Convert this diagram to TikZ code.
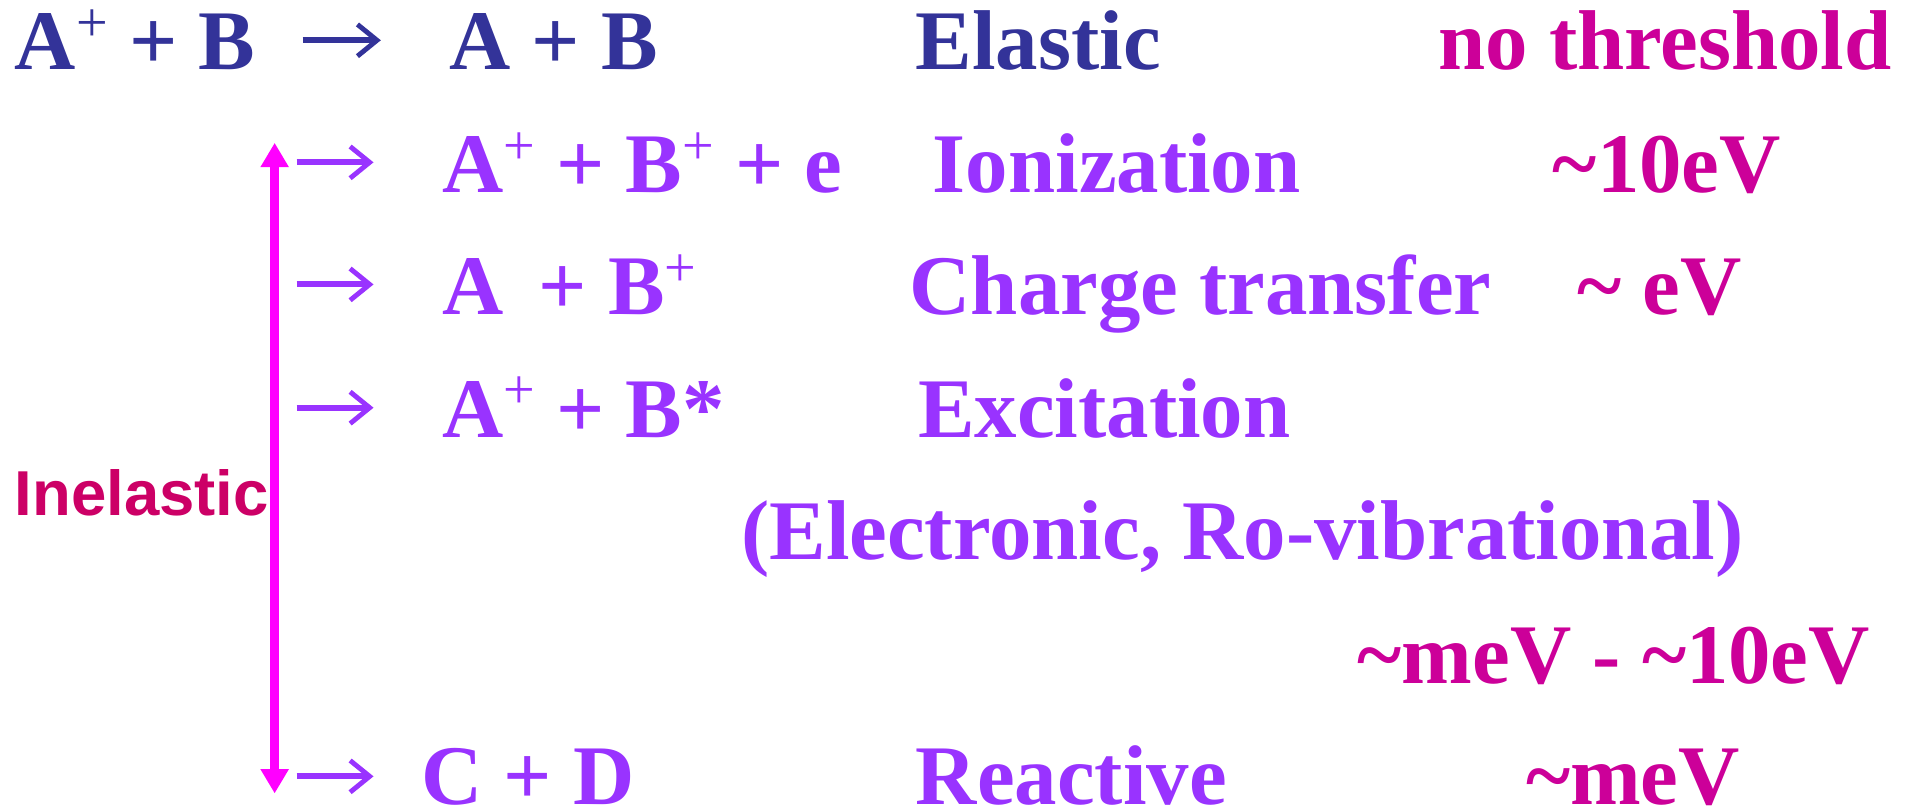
\documentclass[tikz,border=0pt]{standalone}
\usepackage{fontspec}
\setmainfont{Liberation Serif}
\newfontfamily\arialfont{Liberation Sans}
\usetikzlibrary{arrows.meta}
\definecolor{dblue}{HTML}{333399}
\definecolor{purp}{HTML}{9933FF}
\definecolor{mag}{HTML}{CC0099}
\definecolor{pinkarr}{HTML}{FF00FF}
\definecolor{inel}{HTML}{CC0066}
\newcommand{\tl}{\textasciitilde}
\newcommand{\supplus}{\raisebox{23pt}{\fontsize{46}{50}\selectfont\mdseries +}}
\begin{document}
\begin{tikzpicture}[x=1pt,y=1pt,
  txt/.style={anchor=base west,inner sep=0pt,font=\fontsize{69.5}{80}\selectfont\bfseries},
  blue/.style={txt,text=dblue},
  pur/.style={txt,text=purp},
  mg/.style={txt,text=mag},
  rarrow/.style={line width=5pt,-{Straight Barb[length=16pt,width=26pt,line width=4pt]}},
]
\useasboundingbox (0,0) rectangle (1568,-664);
% line 1
\node[blue] (r1a) at (12,-57) {A\supplus{} + B};
\node[blue] (r1b) at (368,-57) {A + B};
\node[blue] (r1c) at (750,-57) {Elastic};
\node[mg] (r1d) at (1178,-57) {no threshold};
\coordinate (a1s) at (248,-33);
\coordinate (a1e) at (312,-33);
\draw[rarrow,dblue] (a1s) -- (a1e);
% line 2
\node[pur] (r2a) at (362,-158) {A\supplus{} + B\supplus{} + e};
\node[pur] (r2b) at (764,-158) {Ionization};
\node[mg] (r2c) at (1272,-158) {\tl10eV};
\coordinate (a2s) at (243,-133);
\coordinate (a2e) at (306,-133);
\draw[rarrow,purp] (a2s) -- (a2e);
% line 3
\node[pur] (r3a) at (362,-258) {A\, + B\supplus};
\node[pur] (r3b) at (745,-258) {Charge transfer};
\node[mg] (r3c) at (1292,-258) {\tl{} eV};
\coordinate (a3s) at (243,-233);
\coordinate (a3e) at (306,-233);
\draw[rarrow,purp] (a3s) -- (a3e);
% line 4
\node[pur] (r4a) at (362,-358) {A\supplus{} + B*};
\node[pur] (r4b) at (752,-358) {Excitation};
\coordinate (a4s) at (243,-334);
\coordinate (a4e) at (306,-334);
\draw[rarrow,purp] (a4s) -- (a4e);
% line 5
\node[pur] (r5) at (607,-458) {(Electronic, Ro-vibrational)};
% line 6
\node[mg] (r6) at (1112,-560) {\tl meV - \tl10eV};
% line 7
\node[pur,text depth=0pt] (r7a) at (345,-659) {C + D};
\node[pur,text depth=0pt] (r7b) at (750,-659) {Reactive};
\node[mg,text depth=0pt] (r7c) at (1250,-659) {\tl meV};
\coordinate (a7s) at (243,-636);
\coordinate (a7e) at (306,-636);
\draw[rarrow,purp] (a7s) -- (a7e);
% inelastic arrow
\coordinate (pt) at (225,-117);
\coordinate (pb) at (225,-650);
\draw[pinkarr,line width=7pt,{Triangle[length=20pt,width=22pt]}-{Triangle[length=20pt,width=22pt]}] (pt) -- (pb);
\node[anchor=base west,inner sep=0pt,text=inel,font=\arialfont\fontsize{52}{60}\selectfont\bfseries] (inel) at (12,-422) {Inelastic};
\end{tikzpicture}
\end{document}
